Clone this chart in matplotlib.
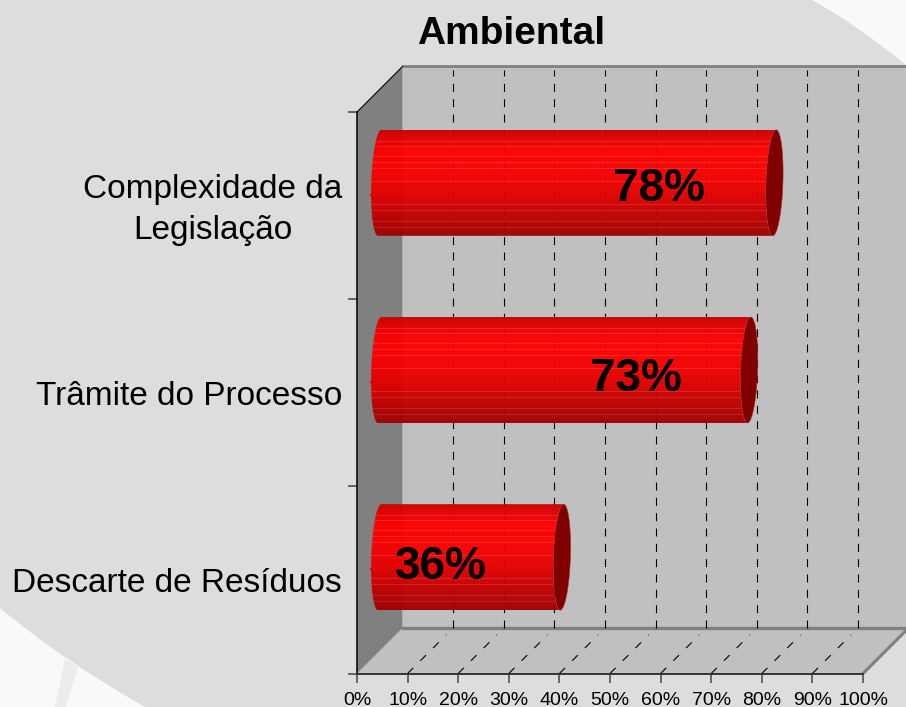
import numpy as np
import matplotlib
matplotlib.use('Agg')
import matplotlib.pyplot as plt
from matplotlib.patches import Polygon, PathPatch
from matplotlib.path import Path
from matplotlib.transforms import Affine2D, ScaledTranslation

plt.rcParams['font.family'] = ['Liberation Sans', 'DejaVu Sans']

# dados
CATEGORIES = ['Descarte de Resíduos', 'Trâmite do Processo', 'Complexidade da\nLegislação']
VALUES = [36, 73, 78]
LABELS = ['36%', '73%', '78%']
X_TICKS = list(range(0, 101, 10))
TITLE = 'Ambiental'

W, H = 906, 707
LEFT, RIGHT, TOP, BOTTOM = 357, 863, 112, 673.5  # plano frontal, em pixels

C_BG = '#dddddd'
C_CORNER = '#f9f9f9'
C_WALL = '#c0c0c0'
C_SIDE = '#808080'
C_CAP = '#800000'

fig = plt.figure(figsize=(W / 100, H / 100), dpi=100, facecolor=C_BG)
ax = fig.add_axes([LEFT / W, 1 - BOTTOM / H, (RIGHT - LEFT) / W, (BOTTOM - TOP) / H])
ax.set_xlim(0, 100)
ax.set_ylim(0, len(CATEGORIES))
ax.patch.set_visible(False)

# px -> unidades de dados
ux = 100 / (RIGHT - LEFT)
uy = len(CATEGORIES) / (BOTTOM - TOP)
DX = 45.5 * ux
DY = 45.5 * uy
YMAX = len(CATEGORIES)

# fundo: cantos claros e a torre apagada
px_tr = Affine2D().scale(1 / W, -1 / H).translate(0, 1) + fig.transFigure
corners = [
    ([(812, 0), (856, 24), (906, 65), (906, 0), (812, 0)],
     [Path.MOVETO, Path.CURVE3, Path.CURVE3, Path.LINETO, Path.CLOSEPOLY]),
    ([(0, 608), (62, 660), (145, 707), (0, 707), (0, 608)],
     [Path.MOVETO, Path.CURVE3, Path.CURVE3, Path.LINETO, Path.CLOSEPOLY]),
]
for verts, codes in corners:
    fig.add_artist(PathPatch(Path(verts, codes), transform=px_tr, fc=C_CORNER, ec='none', zorder=-5))
fig.add_artist(Polygon([(65, 659), (78, 667), (66, 707), (55, 707)], closed=True,
                       transform=px_tr, fc='#ececec', ec='none', zorder=-4))

# paredes 3D
ax.add_patch(Polygon([(DX, DY), (DX + 100, DY), (DX + 100, YMAX + DY), (DX, YMAX + DY)],
                     fc=C_WALL, ec='none', clip_on=False, zorder=1))
ax.add_patch(Polygon([(0, 0), (100, 0), (100 + DX, DY), (DX, DY)],
                     fc=C_WALL, ec='none', clip_on=False, zorder=1))
ax.add_patch(Polygon([(0, 0), (DX, DY), (DX, YMAX + DY), (0, YMAX)],
                     fc=C_SIDE, ec='none', clip_on=False, zorder=1))
ax.plot([DX, 100 + DX], [YMAX + DY] * 2, color=C_SIDE, lw=2, clip_on=False, zorder=2)
ax.plot([DX, 100 + DX], [DY, DY], color=C_SIDE, lw=2.4, clip_on=False, zorder=2)
ax.plot([100, 100 + DX], [0, DY], color=C_SIDE, lw=2.2, clip_on=False, zorder=2)
ax.plot([0, DX], [YMAX, YMAX + DY], color='black', lw=0.8, clip_on=False, zorder=2)

# grade tracejada, parede do fundo e piso
for x in X_TICKS[1:-1]:
    ax.plot([x + DX, x + DX], [DY, YMAX + DY - 3 * uy], color='black', lw=0.8, clip_on=False,
            dashes=(7.2, 6.6), zorder=2)
    ax.plot([x, x + DX * 0.85], [0, DY * 0.85], color='black', lw=0.8, clip_on=False,
            dashes=(7.2, 9), zorder=2)

# gradiente vertical do cilindro
grad_pos = [0, 0.07, 0.2, 0.4, 0.6, 0.8, 1]
grad_red = [205, 225, 255, 250, 228, 195, 160]
n_rows = 106
red = np.interp(np.linspace(0, 1, n_rows), grad_pos, grad_red) / 255
rgb = np.zeros((n_rows, 1, 3))
rgb[:, 0, 0] = red
for row in [11, 16, 26, 32, 38, 51, 74, 80, 91, 97]:  # filetes claros
    rgb[row, 0, 0] = min(rgb[row, 0, 0] + 0.04, 1)
    rgb[row, 0, 1:] = 0.12

BAR_H = 106 * uy
A = 8.5 * ux   # semieixo da elipse
SHEAR = 1.7 * ux
t = np.linspace(-np.pi / 2, np.pi / 2, 40)
full = np.linspace(0, 2 * np.pi, 80)

# deslocamento do rótulo em relação ao fim da barra (px)
label_dx = [-121, -113, -115]
label_dy = [-10, -9, -6]
for i, (val, lab) in enumerate(zip(VALUES, LABELS)):
    yc = i + 0.5 + DY / 2
    x0, x1 = DX / 2, val + DX / 2
    hh = BAR_H / 2
    left = np.column_stack([x0 - A * np.cos(t) + SHEAR * np.sin(t), yc + hh * np.sin(t)])
    right = np.column_stack([x1 - A * np.cos(t[::-1]) + SHEAR * np.sin(t[::-1]), yc + hh * np.sin(t[::-1])])
    im = ax.imshow(rgb, extent=(x0 - A - 1, x1 + A + 1, yc - hh, yc + hh), aspect='auto',
                   interpolation='bilinear', alpha=0.96, zorder=3)
    im.set_clip_path(Polygon(np.vstack([left, right]), closed=True, transform=ax.transData))
    cap = np.column_stack([x1 + A * np.cos(full) + SHEAR * np.sin(full), yc + hh * np.sin(full)])
    ax.add_patch(Polygon(cap, closed=True, fc=C_CAP, ec='#b03030', lw=0.4, clip_on=False, zorder=4))
    ax.plot([x0 - A - 0.6 * ux], [yc - 12 * uy], marker='s', ms=1.8, mew=0, color='#ee0000',
            clip_on=False, zorder=4)
    ax.annotate(lab, (x1, yc), xytext=(label_dx[i] * 0.72, label_dy[i] * 0.72), textcoords='offset points',
                ha='center', va='center', fontsize=33, fontweight='bold', color='black', zorder=6)
ax.set_xlim(0, 100)
ax.set_ylim(0, YMAX)

# eixos
for s in ['top', 'right']:
    ax.spines[s].set_visible(False)
ax.spines['left'].set_color('black')
ax.spines['left'].set_linewidth(1.1)
ax.spines['bottom'].set_color('#333333')
ax.spines['bottom'].set_linewidth(1.4)
for s in ax.spines.values():
    s.set_zorder(5)

ax.set_xticks(X_TICKS)
ax.set_xticklabels([f'{x}%' for x in X_TICKS], fontsize=14)
ax.tick_params(axis='x', length=6.5, width=1.1, color='#444444', pad=6.5)
ax.set_yticks(range(YMAX + 1))
ax.set_yticklabels([''] * (YMAX + 1))
ax.tick_params(axis='y', which='major', length=6.5, width=1.1, color='#444444')
ax.set_yticks([i + 0.5 for i in range(YMAX)], minor=True)
ax.set_yticklabels(CATEGORIES, minor=True, fontsize=24, multialignment='center', linespacing=1.42)
ax.tick_params(axis='y', which='minor', length=0, pad=10.8)

# o rótulo de duas linhas fica um pouco acima do centro da categoria
top_label = ax.get_yticklabels(minor=True)[-1]
top_label.set_transform(top_label.get_transform() + ScaledTranslation(0, 4 / 100, fig.dpi_scale_trans))

fig.text(511 / W, 1 - 34 / H, TITLE, ha='center', va='center', fontsize=28, fontweight='bold')

fig.savefig('out.png', dpi=100, facecolor=fig.get_facecolor())
